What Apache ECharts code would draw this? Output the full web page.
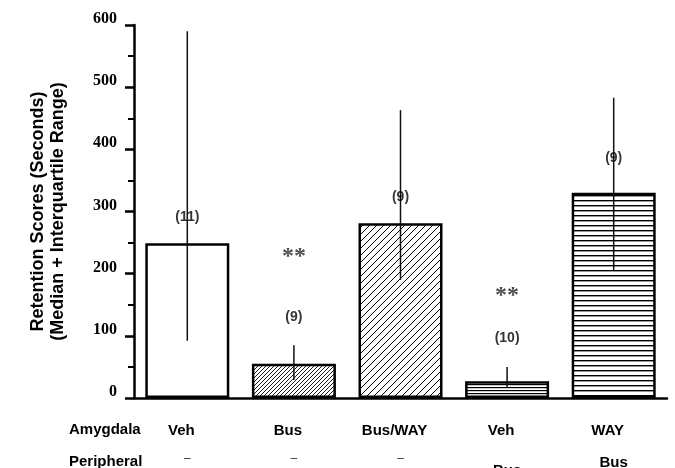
<!DOCTYPE html>
<html><head><meta charset="utf-8">
<script src="https://cdn.jsdelivr.net/npm/echarts@6/dist/echarts.min.js"></script>
<style>html,body{margin:0;padding:0;background:#fff}#c{width:675px;height:468px}</style>
</head><body><div id="c"></div>
<script>
// ---- data ----
const amygdala = ['Veh', 'Bus', 'Bus/WAY', 'Veh', 'WAY'];
const peripheral = ['–', '–', '–', 'Bus', 'Bus'];
const medians = [249, 55, 281, 27, 330];
const iqrLow = [92, 29, 190, 16, 206];
const iqrHigh = [590, 85, 463, 50, 483];
const nLabels = ['(11)', '(9)', '(9)', '(10)', '(9)'];
const nLabelY = [291, 130, 323, 96, 386];
const starLabels = ['', '**', '', '**', ''];
const starY = [null, 238, null, 175, null];
const yTicks = [0, 100, 200, 300, 400, 500, 600];

// ---- fill patterns ----
function diag(p, lw) {
  const c = document.createElement('canvas'); c.width = p; c.height = p;
  const g = c.getContext('2d'); g.fillStyle = '#fff'; g.fillRect(0, 0, p, p);
  g.strokeStyle = '#000'; g.lineWidth = lw;
  g.beginPath();
  g.moveTo(-1, p + 1); g.lineTo(p + 1, -1);
  g.moveTo(-1, 1); g.lineTo(1, -1);
  g.moveTo(p - 1, p + 1); g.lineTo(p + 1, p - 1);
  g.stroke();
  return { image: c, repeat: 'repeat' };
}
function horiz(p, lw) {
  const c = document.createElement('canvas'); c.width = 4; c.height = p;
  const g = c.getContext('2d'); g.fillStyle = '#fff'; g.fillRect(0, 0, 4, p);
  g.fillStyle = '#000'; g.fillRect(0, 0, 4, lw);
  return { image: c, repeat: 'repeat' };
}
const fills = ['#ffffff', diag(4, 0.9), diag(7, 1), horiz(3, 1.2), horiz(5, 1.4)];

const chart = echarts.init(document.getElementById('c'), null, { renderer: 'canvas' });
const sans = 'Liberation Sans, Arial, sans-serif';
chart.setOption({
  animation: false,
  backgroundColor: '#fff',
  grid: { left: 134, right: 8, top: 25, bottom: 70, containLabel: false, outerBoundsMode: 'none' },
  xAxis: {
    type: 'category',
    data: amygdala,
    axisLine: { lineStyle: { color: '#000', width: 2.5 } },
    axisTick: { alignWithLabel: true, length: 8, lineStyle: { color: '#000', width: 2.5 } },
    axisLabel: {
      margin: 23,
      formatter: function (v, i) {
        const p = peripheral[i];
        const st = p === '–' ? 'd' : (i === 3 ? 'q' : 'p');
        return '{a|' + v + '}\n{' + st + '|' + p + '}';
      },
      rich: {
        a: { fontFamily: sans, fontWeight: 'bold', fontSize: 15, color: '#000', lineHeight: 20, padding: [0, 12, 0, 0] },
        d: { fontFamily: sans, fontSize: 12, color: '#333', lineHeight: 36 },
        p: { fontFamily: sans, fontWeight: 'bold', fontSize: 15, color: '#000', lineHeight: 44 },
        q: { fontFamily: sans, fontWeight: 'bold', fontSize: 15, color: '#000', lineHeight: 60 }
      }
    }
  },
  yAxis: {
    type: 'value', min: 0, max: 600, interval: 100,
    name: 'Retention Scores (Seconds)\n(Median + Interquartile Range)',
    nameLocation: 'middle', nameRotate: 90, nameGap: 66,
    nameTextStyle: { fontFamily: sans, fontWeight: 'bold', fontSize: 18, color: '#000', lineHeight: 20 },
    splitLine: { show: false },
    axisLine: { show: true, lineStyle: { color: '#000', width: 2.5 } },
    axisTick: { show: true, length: 9, lineStyle: { color: '#000', width: 2.5 } },
    minorTick: { show: true, splitNumber: 2, length: 6, lineStyle: { color: '#000', width: 2 } },
    axisLabel: {
      margin: 17, verticalAlign: 'bottom', padding: [0, 0, -2, 0],
      fontFamily: 'Liberation Serif, Times New Roman, serif', fontWeight: 'bold', fontSize: 16, color: '#000',
      formatter: function (v) { return yTicks.indexOf(v) >= 0 ? String(v) : ''; }
    }
  },
  series: [
    {
      type: 'bar', barWidth: 84,
      data: medians.map((v, i) => ({ value: v, itemStyle: { color: fills[i] } })),
      itemStyle: { borderColor: '#000', borderWidth: 2.5 },
      z: 2
    },
    {
      type: 'custom', z: 5,
      data: medians.map((v, i) => [i, iqrLow[i], iqrHigh[i]]),
      renderItem: function (params, api) {
        const lo = api.coord([api.value(0), api.value(1)]);
        const hi = api.coord([api.value(0), api.value(2)]);
        return { type: 'line', shape: { x1: lo[0], y1: lo[1], x2: hi[0], y2: hi[1] }, style: { stroke: '#111', lineWidth: 1.5 } };
      }
    },
    {
      type: 'scatter', symbolSize: 0, z: 6,
      data: nLabelY.map((y, i) => [i, y]),
      label: { show: true, position: 'inside', formatter: p => nLabels[p.dataIndex],
        fontFamily: sans, fontWeight: 'bold', fontSize: 14, color: '#000' }
    },
    {
      type: 'scatter', symbolSize: 0, z: 6,
      data: starY.map((y, i) => [i, y]),
      label: { show: true, position: 'inside', offset: [0, 7], formatter: p => starLabels[p.dataIndex],
        fontFamily: 'Liberation Serif, serif', fontWeight: 'bold', fontSize: 24, color: '#222' }
    }
  ],
  graphic: [
    { type: 'text', left: 69, top: 422, style: { text: 'Amygdala', font: 'bold 15px ' + sans, fill: '#000' } },
    { type: 'text', left: 69, top: 454, style: { text: 'Peripheral', font: 'bold 15px ' + sans, fill: '#000' } }
  ]
});
</script></body></html>
